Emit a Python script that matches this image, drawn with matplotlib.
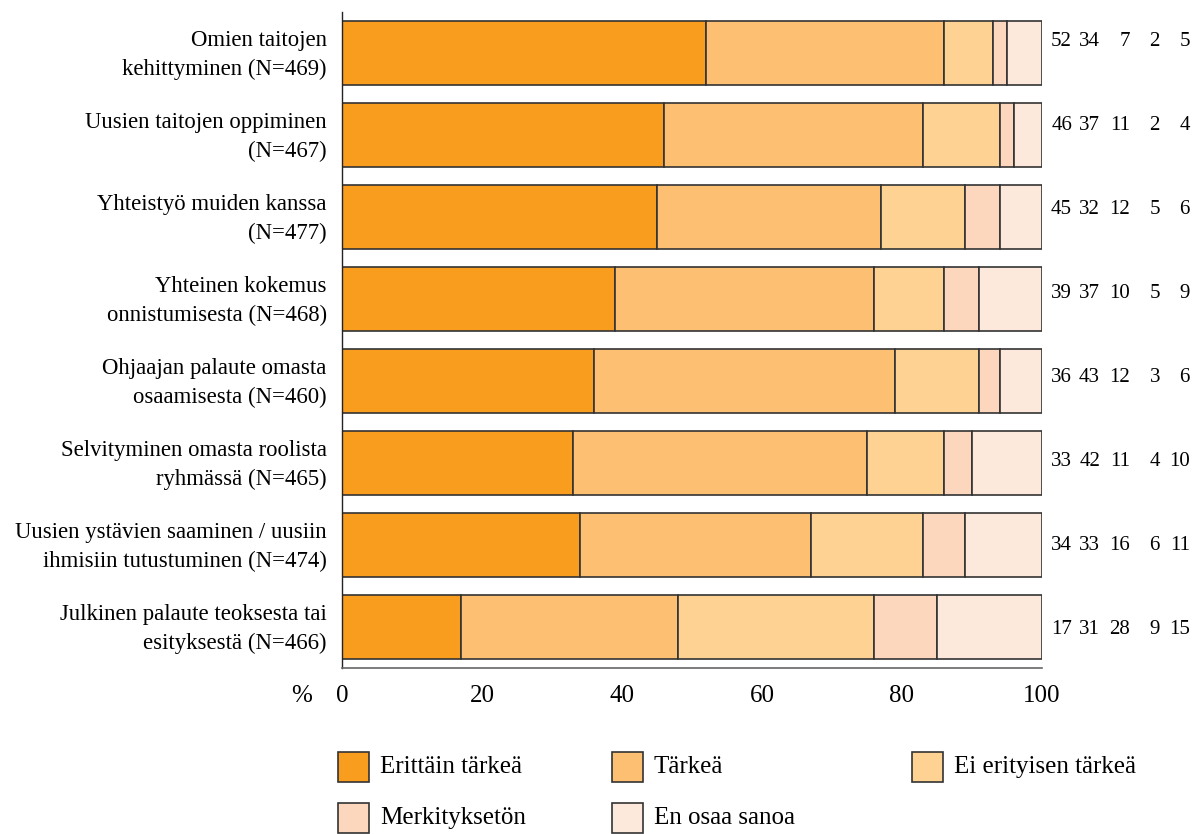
import matplotlib
matplotlib.use("Agg")
import matplotlib.pyplot as plt
import matplotlib.transforms as mtransforms
from matplotlib.patches import Rectangle

plt.rcParams["font.family"] = ["Liberation Serif", "DejaVu Serif"]

# ─────────────────────────────────────────────────────────────
# Data
# ─────────────────────────────────────────────────────────────

LABELS = [
    "Omien taitojen\nkehittyminen (N=469)",
    "Uusien taitojen oppiminen\n(N=467)",
    "Yhteistyö muiden kanssa\n(N=477)",
    "Yhteinen kokemus\nonnistumisesta (N=468)",
    "Ohjaajan palaute omasta\nosaamisesta (N=460)",
    "Selvityminen omasta roolista\nryhmässä (N=465)",
    "Uusien ystävien saaminen / uusiin\nihmisiin tutustuminen (N=474)",
    "Julkinen palaute teoksesta tai\nesityksestä (N=466)",
]

CATEGORIES = ["Erittäin tärkeä", "Tärkeä", "Ei erityisen tärkeä",
              "Merkityksetön", "En osaa sanoa"]

erittain = [52, 46, 45, 39, 36, 33, 34, 17]
tarkea = [34, 37, 32, 37, 43, 42, 33, 31]
ei_erityisen = [7, 11, 12, 10, 12, 11, 16, 28]
merkitykseton = [2, 2, 5, 5, 3, 4, 6, 9]
en_osaa = [5, 4, 6, 9, 6, 10, 11, 15]

SERIES = [erittain, tarkea, ei_erityisen, merkitykseton, en_osaa]
COLORS = ["#F99D1F", "#FDBF72", "#FED292", "#FCD7BE", "#FDE9DB"]
XTICKS = [0, 20, 40, 60, 80, 100]

EDGE = "#333333"

# ─────────────────────────────────────────────────────────────
# Figure
# ─────────────────────────────────────────────────────────────

W, H = 1194, 834
fig = plt.figure(figsize=(W / 100, H / 100), dpi=100)
ax = fig.add_axes([342 / W, 1 - 668 / H, 700 / W, 656 / H])

ypos = list(range(len(LABELS)))
left = [0] * len(LABELS)
for vals, color in zip(SERIES, COLORS):
    ax.barh(ypos, vals, left=left, height=0.79, color=color,
            edgecolor=EDGE, linewidth=1.2)
    left = [l + v for l, v in zip(left, vals)]

ax.set_xlim(0, 100)
ax.set_ylim(len(LABELS) - 0.5, -0.5)

ax.set_yticks(ypos)
ax.set_yticklabels(LABELS, fontsize=16.4, linespacing=1.45, ha="right")
ax.set_xticks(XTICKS)
ax.set_xticklabels([str(t) for t in XTICKS], fontsize=18)
ax.tick_params(axis="both", length=0)
ax.tick_params(axis="y", pad=11)
ax.tick_params(axis="x", pad=12.5)

# nudge the two-line category labels up a touch
nudge = mtransforms.ScaledTranslation(0, 3 / 72, fig.dpi_scale_trans)
for lab in ax.get_yticklabels():
    lab.set_transform(lab.get_transform() + nudge)

for side in ("top", "right"):
    ax.spines[side].set_visible(False)
ax.spines["left"].set_color("#222222")
ax.spines["left"].set_linewidth(1.0)
ax.spines["bottom"].set_color("#666666")
ax.spines["bottom"].set_linewidth(1.2)

fig.text(302 / W, 1 - 696 / H, "%", fontsize=18, ha="center", va="center")

# value columns on the right (rows drift a little from bar centres)
col_right = [1072, 1100, 1130, 1160, 1190]
for i in ypos:
    for xr, vals in zip(col_right, SERIES):
        ax.annotate(str(vals[i]), xy=(1, i), xycoords=("axes fraction", "data"),
                    xytext=(xr - 1042, 11 - 2 * i), textcoords="offset pixels",
                    ha="right", va="center", fontsize=15)

# legend, three per row
leg_x = [338, 612, 912]
leg_y = [767, 818]
for k, (name, color) in enumerate(zip(CATEGORIES, COLORS)):
    x0 = leg_x[k % 3]
    yc = leg_y[k // 3]
    fig.add_artist(Rectangle((x0 / W, 1 - (yc + 15) / H), 31 / W, 30 / H,
                             transform=fig.transFigure, facecolor=color,
                             edgecolor=EDGE, linewidth=1.2))
    fig.text((x0 + 42) / W, 1 - yc / H, name, fontsize=18,
             ha="left", va="center")

fig.savefig("out.png", dpi=100)
